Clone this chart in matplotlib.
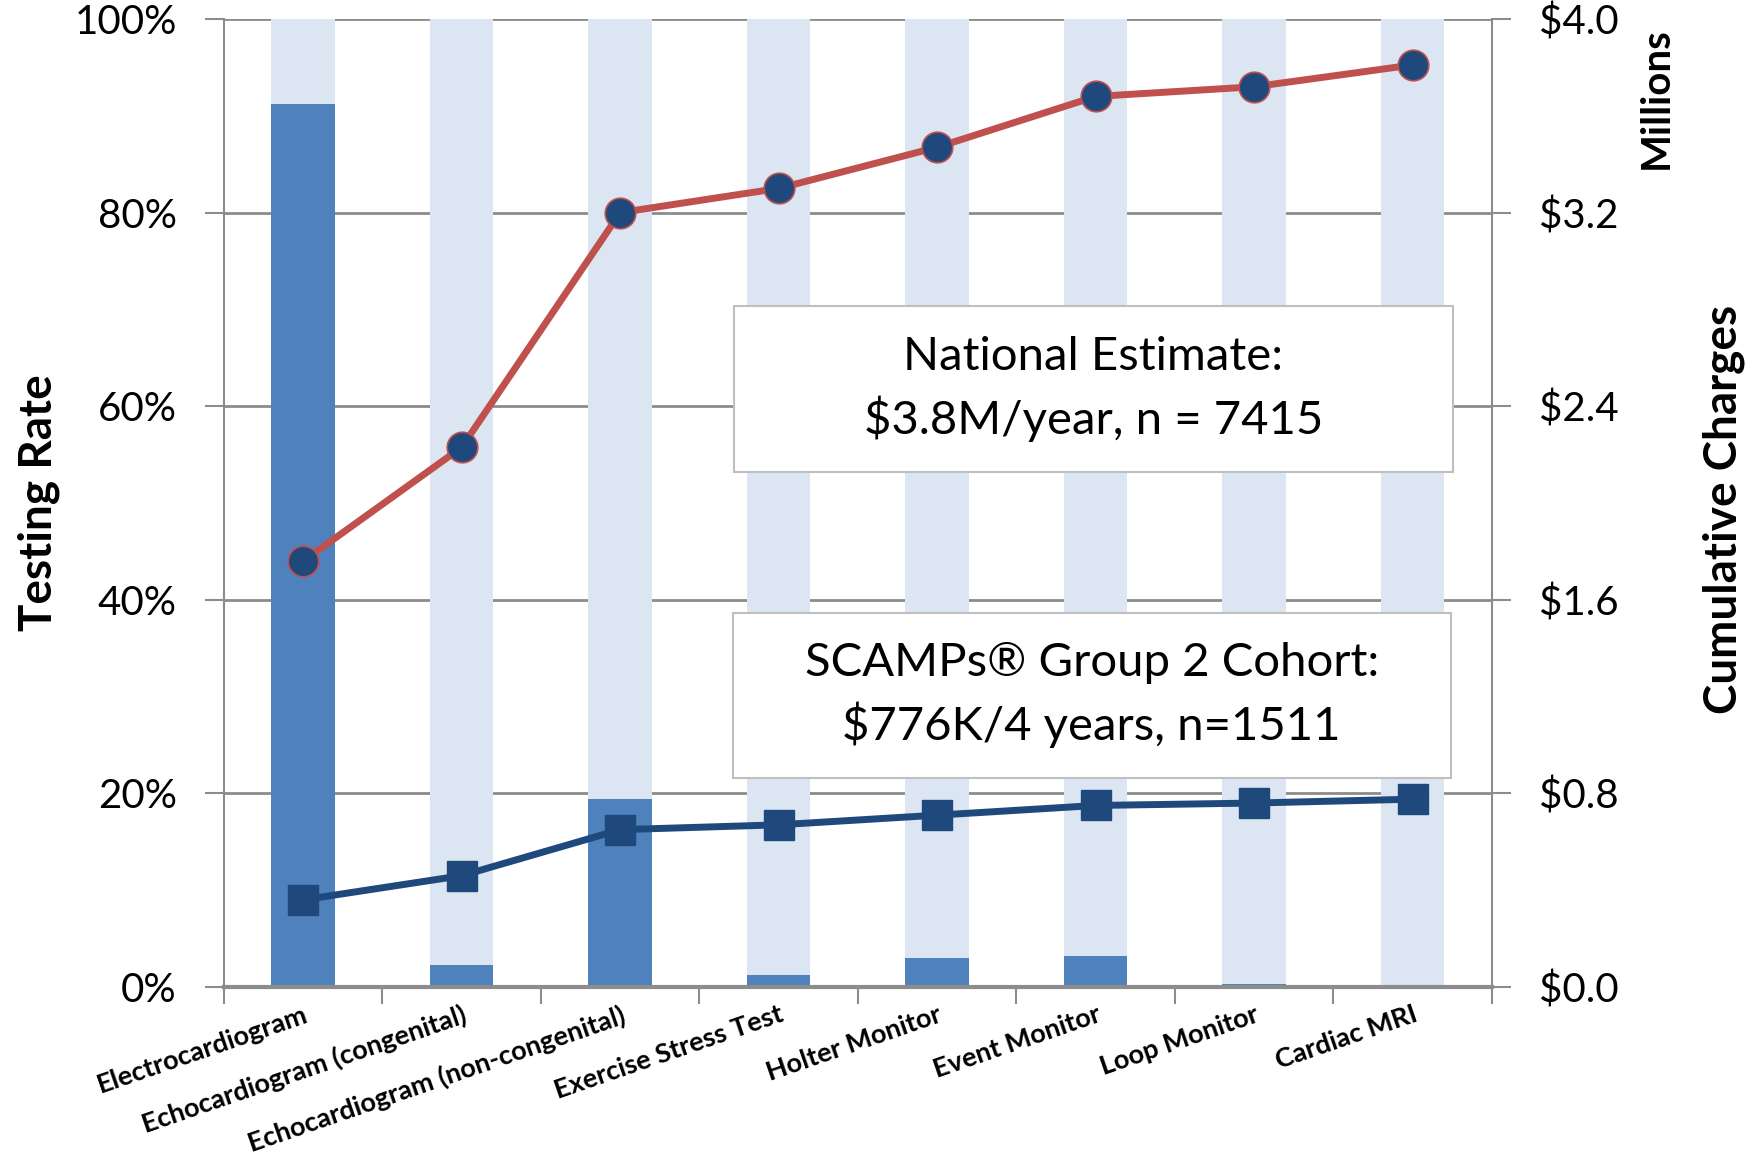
import matplotlib
matplotlib.use("Agg")
import matplotlib.pyplot as plt
from matplotlib.patches import Rectangle
import numpy as np

plt.rcParams['font.family'] = ['Lato', 'DejaVu Sans']

# data
tests = ["Electrocardiogram", "Echocardiogram (congenital)", "Echocardiogram (non-congenital)",
         "Exercise Stress Test", "Holter Monitor", "Event Monitor", "Loop Monitor", "Cardiac MRI"]
testing_rate = [91.2, 2.3, 19.4, 1.2, 3.0, 3.2, 0.3, 0.2]          # %
national_cum = [1.76, 2.23, 3.20, 3.30, 3.47, 3.68, 3.72, 3.81]      # $ millions
scamps_cum = [0.36, 0.46, 0.65, 0.67, 0.71, 0.75, 0.76, 0.776]       # $ millions

dark = "#4F81BD"
light = "#DCE6F2"
red = "#C0504D"
navy = "#1F497D"
grid = "#8C8C8C"

fig = plt.figure(figsize=(17.55, 11.73), dpi=100)
ax = fig.add_axes([0.1276, 0.1586, 0.8501 - 0.1276, 0.9838 - 0.1586])
x = np.arange(len(tests))

# bars: testing rate + light remainder up to 100%
rest = [100 - v for v in testing_rate]
ax.bar(x, testing_rate, width=0.4, color=dark, zorder=2)
ax.bar(x, rest, bottom=testing_rate, width=0.4, color=light, zorder=2)

ax.set_xlim(-0.5, len(tests) - 0.5)
ax.set_ylim(0, 100)
ax.set_yticks(np.arange(0, 101, 20))
ax.set_yticklabels([f"{v}%" for v in range(0, 101, 20)], fontsize=29)
ax.yaxis.grid(True, color=grid, lw=2, zorder=0)
ax.set_axisbelow(True)

ax.set_xticks(x)
ax.set_xticklabels(tests, rotation=19, ha='right', rotation_mode='anchor',
                   fontsize=19.5, fontweight='bold')
ax.tick_params(axis='x', which='major', length=0, pad=11)
ax.set_xticks(np.arange(-0.5, len(tests), 1), minor=True)
ax.tick_params(axis='x', which='minor', length=12, width=1.5, color=grid)
ax.tick_params(axis='y', length=14, width=1.5, color=grid, pad=20)

for s in ['left', 'right']:
    ax.spines[s].set_color(grid)
    ax.spines[s].set_linewidth(1.5)
ax.spines['bottom'].set_color(grid)
ax.spines['bottom'].set_linewidth(3)
ax.spines['top'].set_visible(False)

ax.set_ylabel("Testing Rate", fontsize=33, fontweight='bold', labelpad=10)

# cumulative charges on right axis
ax2 = ax.twinx()
ax2.set_ylim(0, 4)
ticks = np.arange(0, 4.01, 0.8)
ax2.set_yticks(ticks)
ax2.set_yticklabels([f"${t:.1f}" for t in ticks], fontsize=29)
ax2.tick_params(axis='y', length=14, width=1.5, color=grid, pad=20)
for s in ['left', 'right', 'top', 'bottom']:
    ax2.spines[s].set_visible(False)

ax2.plot(x, national_cum, '-o', color=red, lw=5, ms=22, mfc=navy, mec=red, mew=1.2, zorder=4)
ax2.plot(x, scamps_cum, '-s', color=navy, lw=5, ms=22, mfc=navy, mec=navy, zorder=4)

# annotation boxes
ax2.add_patch(Rectangle((2.716, 2.127), 7.253 - 2.716, 2.812 - 2.127,
                        fc='white', ec='#BFBFBF', lw=1.5, zorder=5))
ax2.add_patch(Rectangle((2.709, 0.865), 7.239 - 2.709, 1.545 - 0.865,
                        fc='white', ec='#BFBFBF', lw=1.5, zorder=5))
ax2.text(4.985, 2.47, "National Estimate:\n$3.8M/year, n = 7415", ha='center', va='center',
         fontsize=34, linespacing=1.45, zorder=6)
ax2.text(4.975, 1.205, "SCAMPs\u00ae Group 2 Cohort:\n$776K/4 years, n=1511", ha='center', va='center',
         fontsize=34, linespacing=1.45, zorder=6)

fig.text(0.9435, 0.916, "Millions", rotation=90, ha='center', va='center',
         fontsize=29, fontweight='bold')
fig.text(0.982, 0.566, "Cumulative Charges", rotation=90, ha='center', va='center',
         fontsize=33, fontweight='bold')

fig.savefig("out.png", dpi=100)
